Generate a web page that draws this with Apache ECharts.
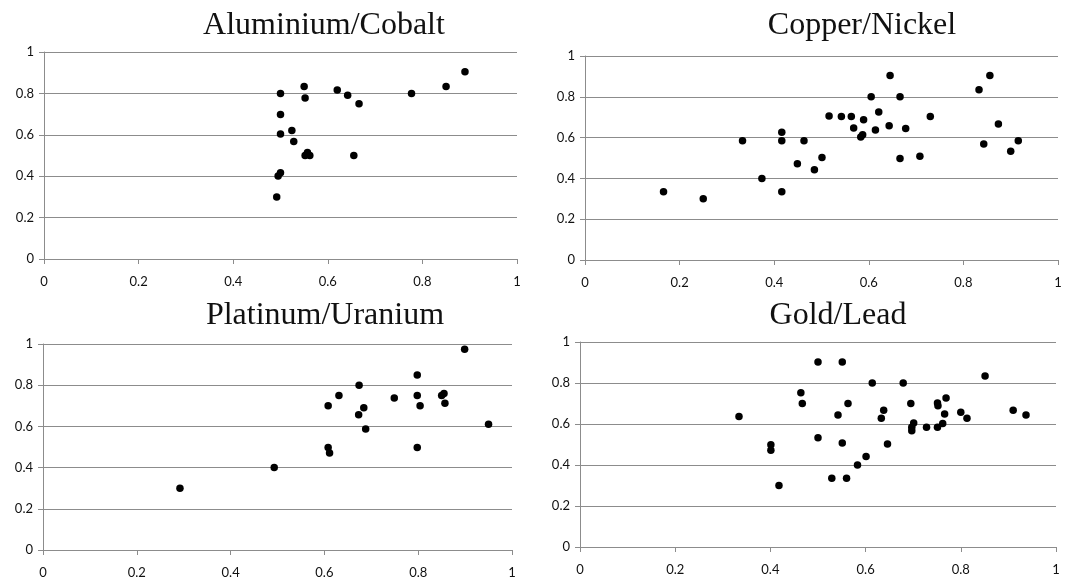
<!DOCTYPE html>
<html>
<head>
<meta charset="utf-8">
<script src="https://cdn.jsdelivr.net/npm/echarts@6/dist/echarts.min.js"></script>
<style>
  html, body { margin: 0; padding: 0; background: #fff; }
  #chart { width: 1072px; height: 582px; }
</style>
</head>
<body>
<div id="chart"></div>
<script>
// panel titles
const titles = ['Aluminium/Cobalt', 'Copper/Nickel', 'Platinum/Uranium', 'Gold/Lead'];

// scatter points [x, y]
const aluminiumCobalt = [
  [0.50, 0.80], [0.55, 0.833], [0.552, 0.778], [0.62, 0.817], [0.642, 0.791],
  [0.666, 0.75], [0.777, 0.80], [0.85, 0.833], [0.89, 0.904], [0.50, 0.698],
  [0.524, 0.621], [0.50, 0.604], [0.528, 0.568], [0.557, 0.515], [0.552, 0.50],
  [0.562, 0.50], [0.655, 0.50], [0.50, 0.417], [0.495, 0.401], [0.492, 0.30]
];
const copperNickel = [
  [0.166, 0.335], [0.25, 0.30], [0.333, 0.585], [0.374, 0.40], [0.416, 0.626],
  [0.416, 0.585], [0.416, 0.335], [0.449, 0.472], [0.463, 0.585], [0.485, 0.443],
  [0.501, 0.502], [0.516, 0.706], [0.542, 0.703], [0.563, 0.703], [0.568, 0.647],
  [0.583, 0.603], [0.587, 0.614], [0.589, 0.688], [0.605, 0.80], [0.614, 0.637],
  [0.621, 0.725], [0.643, 0.658], [0.645, 0.904], [0.666, 0.80], [0.666, 0.498],
  [0.678, 0.645], [0.708, 0.508], [0.73, 0.703], [0.833, 0.835], [0.843, 0.569],
  [0.856, 0.904], [0.874, 0.667], [0.90, 0.533], [0.916, 0.585]
];
const platinumUranium = [
  [0.292, 0.30], [0.493, 0.40], [0.608, 0.498], [0.611, 0.471], [0.608, 0.70],
  [0.631, 0.75], [0.674, 0.80], [0.673, 0.657], [0.684, 0.69], [0.688, 0.587],
  [0.749, 0.738], [0.798, 0.85], [0.798, 0.75], [0.804, 0.70], [0.798, 0.498],
  [0.850, 0.75], [0.855, 0.76], [0.857, 0.712], [0.899, 0.974], [0.95, 0.61]
];
const goldLead = [
  [0.334, 0.636], [0.401, 0.499], [0.401, 0.472], [0.418, 0.30], [0.464, 0.753],
  [0.467, 0.70], [0.50, 0.902], [0.50, 0.533], [0.529, 0.335], [0.542, 0.644],
  [0.551, 0.902], [0.551, 0.507], [0.56, 0.335], [0.563, 0.70], [0.583, 0.40],
  [0.601, 0.442], [0.614, 0.80], [0.633, 0.628], [0.638, 0.667], [0.646, 0.502],
  [0.679, 0.80], [0.695, 0.70], [0.697, 0.584], [0.697, 0.567], [0.701, 0.605],
  [0.728, 0.584], [0.751, 0.702], [0.752, 0.689], [0.751, 0.584], [0.762, 0.602],
  [0.766, 0.649], [0.769, 0.727], [0.80, 0.657], [0.813, 0.628], [0.851, 0.834],
  [0.91, 0.667], [0.937, 0.644]
];
const panelData = [aluminiumCobalt, copperNickel, platinumUranium, goldLead];

// panel layout (pixels)
const grids = [
  { left: 44, top: 52, width: 473, height: 207 },
  { left: 585, top: 56, width: 473, height: 204 },
  { left: 43, top: 344, width: 469, height: 206 },
  { left: 580, top: 342, width: 476, height: 205 }
];
// title centre points (not centred on the plot areas)
const titlePos = [[319, 5], [857, 5], [320, 295], [833, 295]];

const gray = '#8c8c8c';
const labelFont = { color: '#111', fontFamily: 'Lato', fontSize: 13 };

const option = {
  backgroundColor: '#fff',
  animation: false,
  title: titles.map(function (t, i) {
    return {
      text: t,
      left: titlePos[i][0],
      top: titlePos[i][1],
      textAlign: 'center',
      textStyle: { fontFamily: 'Liberation Serif', fontWeight: 'normal', fontSize: 32, color: '#111' }
    };
  }),
  grid: grids.map(function (g) {
    return Object.assign({ containLabel: false }, g);
  }),
  xAxis: grids.map(function (g, i) {
    return {
      type: 'value', gridIndex: i, min: 0, max: 1, interval: 0.2,
      axisLine: { show: true, lineStyle: { color: gray } },
      axisTick: { show: true, length: 5, lineStyle: { color: gray } },
      splitLine: { show: false },
      axisLabel: Object.assign({ margin: 16 }, labelFont)
    };
  }),
  yAxis: grids.map(function (g, i) {
    return {
      type: 'value', gridIndex: i, min: 0, max: 1, interval: 0.2,
      axisLine: { show: true, lineStyle: { color: gray } },
      axisTick: { show: true, length: 5, lineStyle: { color: gray } },
      splitLine: { show: true, lineStyle: { color: gray, width: 1 } },
      axisLabel: Object.assign({ margin: 10 }, labelFont)
    };
  }),
  series: panelData.map(function (d, i) {
    return {
      type: 'scatter', xAxisIndex: i, yAxisIndex: i,
      data: d, symbolSize: 7.5,
      itemStyle: { color: '#000', opacity: 1 }
    };
  })
};

const chart = echarts.init(document.getElementById('chart'));
chart.setOption(option);
</script>
</body>
</html>
